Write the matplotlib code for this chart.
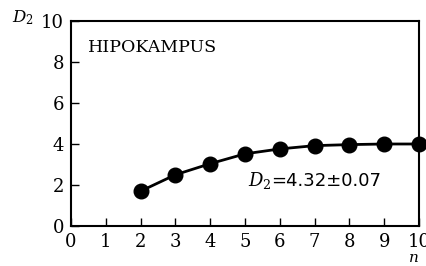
import matplotlib
matplotlib.use("Agg")
import matplotlib.pyplot as plt

n_values = [2, 3, 4, 5, 6, 7, 8, 9, 10]
d2_values = [1.70, 2.50, 3.04, 3.52, 3.76, 3.92, 3.97, 4.00, 4.00]
x_ticks = [0, 1, 2, 3, 4, 5, 6, 7, 8, 9, 10]
y_ticks = [0, 2, 4, 6, 8, 10]
region_label = "HIPOKAMPUS"
fit_label = "=4.32±0.07"

plt.rcParams['mathtext.fontset'] = 'dejavuserif'
fig = plt.figure(figsize=(4.27, 2.66), dpi=100)
ax = fig.add_axes([0.1663, 0.1504, 0.8150, 0.7706])

ax.plot(n_values, d2_values, color='black', lw=2.0, marker='o', ms=10.5,
        markerfacecolor='black', markeredgecolor='black', clip_on=False, zorder=3)

ax.set_xlim(0, 10)
ax.set_ylim(0, 10)
ax.set_xticks(x_ticks)
ax.set_yticks(y_ticks)
ax.tick_params(direction='in', length=6, width=1, labelsize=13, pad=5)
for lab in ax.get_xticklabels() + ax.get_yticklabels():
    lab.set_fontfamily('DejaVu Serif')
for sp in ax.spines.values():
    sp.set_linewidth(1.5)

ax.text(0.05, 0.87, region_label, transform=ax.transAxes, fontsize=12.5,
        family='DejaVu Serif', va='center', ha='left')
ax.text(0.51, 0.22, r"$D_{2}$", transform=ax.transAxes, fontsize=13,
        va='center', ha='left')
ax.text(0.575, 0.22, fit_label, transform=ax.transAxes, fontsize=13,
        family='DejaVu Sans', va='center', ha='left')

fig.text(12/427, 1 - 18/266, r"$D_{2}$", fontsize=12, va='center', ha='left')
fig.text(413/427, 1 - 257.5/266, r"$n$", fontsize=11, va='center', ha='center')

fig.savefig("out.png", dpi=100)
